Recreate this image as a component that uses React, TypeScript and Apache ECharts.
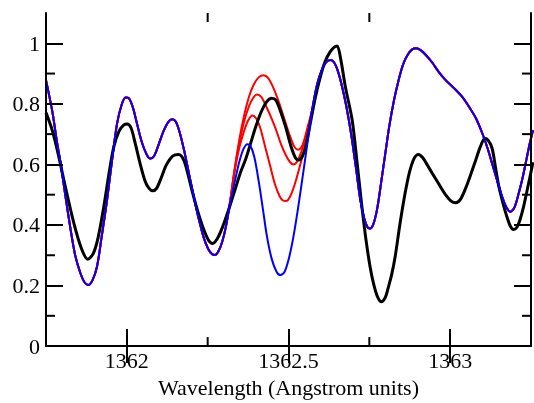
import React, { useEffect, useRef } from "react";
import * as echarts from "echarts";

// Observed spectrum (black)
const blackWave = [1361.75, 1361.77, 1361.79, 1361.805, 1361.836, 1361.86, 1361.879, 1361.895, 1361.91, 1361.928, 1361.945, 1361.959, 1361.975, 1361.99, 1362.0, 1362.012, 1362.025, 1362.04, 1362.055, 1362.068, 1362.079, 1362.09, 1362.105, 1362.12, 1362.14, 1362.159, 1362.175, 1362.19, 1362.202, 1362.218, 1362.233, 1362.25, 1362.263, 1362.278, 1362.294, 1362.315, 1362.335, 1362.35, 1362.365, 1362.38, 1362.396, 1362.412, 1362.43, 1362.445, 1362.458, 1362.472, 1362.488, 1362.505, 1362.519, 1362.529, 1362.54, 1362.55, 1362.565, 1362.58, 1362.595, 1362.61, 1362.625, 1362.638, 1362.647, 1362.658, 1362.672, 1362.693, 1362.708, 1362.723, 1362.735, 1362.748, 1362.76, 1362.772, 1362.783, 1362.795, 1362.805, 1362.815, 1362.826, 1362.84, 1362.856, 1362.87, 1362.885, 1362.897, 1362.91, 1362.925, 1362.94, 1362.96, 1362.981, 1362.998, 1363.012, 1363.026, 1363.042, 1363.058, 1363.073, 1363.088, 1363.102, 1363.112, 1363.124, 1363.135, 1363.145, 1363.157, 1363.168, 1363.18, 1363.19, 1363.2, 1363.21, 1363.221, 1363.235, 1363.25];
const blackFlux = [0.78, 0.72, 0.635, 0.563, 0.423, 0.34, 0.308, 0.325, 0.375, 0.477, 0.59, 0.67, 0.72, 0.74, 0.743, 0.73, 0.68, 0.615, 0.56, 0.535, 0.528, 0.535, 0.57, 0.61, 0.64, 0.645, 0.625, 0.57, 0.52, 0.46, 0.412, 0.37, 0.359, 0.375, 0.412, 0.475, 0.541, 0.59, 0.63, 0.68, 0.734, 0.78, 0.815, 0.826, 0.82, 0.785, 0.734, 0.67, 0.633, 0.627, 0.64, 0.67, 0.75, 0.83, 0.895, 0.945, 0.975, 0.99, 0.994, 0.95, 0.863, 0.756, 0.62, 0.477, 0.375, 0.285, 0.225, 0.185, 0.171, 0.185, 0.22, 0.26, 0.32, 0.42, 0.52, 0.59, 0.635, 0.645, 0.635, 0.61, 0.584, 0.55, 0.515, 0.495, 0.49, 0.5, 0.535, 0.58, 0.625, 0.67, 0.697, 0.69, 0.665, 0.6, 0.541, 0.49, 0.45, 0.415, 0.404, 0.41, 0.435, 0.477, 0.545, 0.62];

// Model (blue)
const blueWave = [1361.75, 1361.77, 1361.783, 1361.795, 1361.81, 1361.826, 1361.84, 1361.856, 1361.868, 1361.88, 1361.893, 1361.907, 1361.92, 1361.938, 1361.955, 1361.969, 1361.983, 1361.995, 1362.005, 1362.018, 1362.03, 1362.045, 1362.06, 1362.071, 1362.083, 1362.098, 1362.112, 1362.127, 1362.139, 1362.15, 1362.162, 1362.175, 1362.19, 1362.205, 1362.22, 1362.235, 1362.25, 1362.262, 1362.271, 1362.282, 1362.293, 1362.304, 1362.318, 1362.332, 1362.345, 1362.358, 1362.37, 1362.38, 1362.392, 1362.405, 1362.418, 1362.43, 1362.445, 1362.46, 1362.472, 1362.485, 1362.498, 1362.512, 1362.526, 1362.54, 1362.555, 1362.57, 1362.585, 1362.6, 1362.613, 1362.626, 1362.638, 1362.65, 1362.662, 1362.675, 1362.69, 1362.705, 1362.718, 1362.73, 1362.74, 1362.748, 1362.758, 1362.77, 1362.783, 1362.795, 1362.808, 1362.822, 1362.836, 1362.85, 1362.865, 1362.878, 1362.89, 1362.905, 1362.92, 1362.94, 1362.96, 1362.981, 1363.005, 1363.032, 1363.055, 1363.075, 1363.095, 1363.11, 1363.124, 1363.14, 1363.155, 1363.168, 1363.18, 1363.193, 1363.206, 1363.218, 1363.23, 1363.24, 1363.25];
const blueFlux = [0.884, 0.78, 0.69, 0.616, 0.51, 0.402, 0.32, 0.263, 0.235, 0.225, 0.24, 0.284, 0.37, 0.498, 0.64, 0.745, 0.805, 0.828, 0.826, 0.795, 0.745, 0.685, 0.645, 0.632, 0.64, 0.68, 0.72, 0.75, 0.758, 0.75, 0.715, 0.66, 0.585, 0.51, 0.44, 0.38, 0.34, 0.324, 0.322, 0.335, 0.365, 0.412, 0.49, 0.56, 0.62, 0.662, 0.678, 0.672, 0.635, 0.56, 0.47, 0.385, 0.31, 0.268, 0.257, 0.268, 0.31, 0.38, 0.47, 0.57, 0.68, 0.79, 0.87, 0.918, 0.942, 0.949, 0.94, 0.91, 0.863, 0.8, 0.71, 0.6, 0.5, 0.44, 0.412, 0.407, 0.42, 0.47, 0.56, 0.648, 0.74, 0.82, 0.884, 0.935, 0.967, 0.983, 0.987, 0.98, 0.965, 0.94, 0.91, 0.884, 0.86, 0.83, 0.795, 0.76, 0.71, 0.665, 0.616, 0.56, 0.509, 0.475, 0.461, 0.475, 0.52, 0.57, 0.63, 0.68, 0.723];

// Red models: differ from blue only between ~1362.31 and 1362.57
const red1Wave = [1362.318, 1362.33, 1362.345, 1362.36, 1362.375, 1362.39, 1362.405, 1362.42, 1362.435, 1362.45, 1362.465, 1362.478, 1362.49, 1362.503, 1362.515, 1362.527, 1362.54, 1362.555];
const red1Flux = [0.5, 0.59, 0.69, 0.77, 0.83, 0.87, 0.893, 0.9, 0.89, 0.86, 0.82, 0.78, 0.74, 0.7, 0.67, 0.66, 0.675, 0.73];
const red2Wave = [1362.318, 1362.33, 1362.345, 1362.36, 1362.375, 1362.39, 1362.4, 1362.413, 1362.428, 1362.445, 1362.46, 1362.475, 1362.49, 1362.502, 1362.512, 1362.525, 1362.54, 1362.555];
const red2Flux = [0.5, 0.59, 0.68, 0.75, 0.8, 0.83, 0.838, 0.83, 0.8, 0.76, 0.72, 0.675, 0.64, 0.62, 0.613, 0.625, 0.665, 0.72];
const red3Wave = [1362.318, 1362.33, 1362.345, 1362.36, 1362.373, 1362.386, 1362.398, 1362.41, 1362.425, 1362.44, 1362.455, 1362.47, 1362.48, 1362.49, 1362.502, 1362.515, 1362.53, 1362.545, 1362.558];
const red3Flux = [0.5, 0.585, 0.665, 0.72, 0.755, 0.77, 0.76, 0.73, 0.67, 0.61, 0.55, 0.51, 0.497, 0.495, 0.51, 0.545, 0.6, 0.66, 0.72];

const xMajorTicks = [1362, 1362.5, 1363];
const xMinorTicks = [1362.25, 1362.75];
const yMajorTicks = [0, 0.2, 0.4, 0.6, 0.8, 1];
const yMinorTicks = [0.1, 0.3, 0.5, 0.7, 0.9];

const X_MIN = 1361.75;
const X_MAX = 1363.25;
const X_STEP = 0.25;
const Y_MIN = 0;
const Y_MAX = 1.1;
const Y_STEP = 0.2;
const xTitle = "Wavelength (Angstrom units)";

const zip = (xs: number[], ys: number[]) => xs.map((x, i) => [x, ys[i]]);
const redFull = (xs: number[], ys: number[]) => {
  const blue = zip(blueWave, blueFlux);
  const before = blue.filter((p) => p[0] < 1362.31);
  const after = blue.filter((p) => p[0] > 1362.565);
  return [...before, ...zip(xs, ys), ...after];
};
const inList = (v: number, list: number[]) => list.some((t) => Math.abs(t - v) < 1e-6);

const GRID = { left: 46, right: 1, top: 13, bottom: 48 };
const boxStyle: React.CSSProperties = { position: "fixed", left: 0, top: 0, width: 534, height: 403 };

export default function App() {
  const curvesRef = useRef<HTMLDivElement>(null);
  const axesRef = useRef<HTMLDivElement>(null);
  useEffect(() => {
    if (!curvesRef.current || !axesRef.current) return;

    // Layer 1: the spectra
    const curves = echarts.init(curvesRef.current, undefined, { renderer: "svg" });
    const lineSeries = (data: number[][], color: string, width: number) => ({
      type: "line",
      data,
      smooth: 0.3,
      showSymbol: false,
      color,
      lineStyle: { color, width },
    });
    curves.setOption({
      animation: false,
      backgroundColor: "#fff",
      grid: GRID,
      xAxis: { type: "value", min: X_MIN, max: X_MAX, show: false },
      yAxis: { type: "value", min: Y_MIN, max: Y_MAX, show: false },
      series: [
        lineSeries(redFull(red1Wave, red1Flux), "#ff0000", 2),
        lineSeries(redFull(red2Wave, red2Flux), "#ff0000", 2),
        lineSeries(redFull(red3Wave, red3Flux), "#ff0000", 2),
        lineSeries(zip(blackWave, blackFlux), "#000000", 3),
        lineSeries(zip(blueWave, blueFlux), "#0000ff", 2),
      ],
    });

    // Layer 2: frame, ticks, tick labels and axis title
    const axes = echarts.init(axesRef.current, undefined, { renderer: "svg" });
    axes.setOption({
      animation: false,
      grid: GRID,
      xAxis: [
        {
          type: "value",
          min: X_MIN,
          max: X_MAX,
          interval: X_STEP,
          splitLine: { show: false },
          axisLine: { lineStyle: { color: "#000", width: 2 } },
          axisTick: { inside: true, length: 17, lineStyle: { color: "#000", width: 2 }, customValues: xMajorTicks },
          axisLabel: {
            fontSize: 22,
            fontFamily: "Liberation Serif",
            color: "#000",
            margin: 3,
            formatter: (v: number) => (inList(v, xMajorTicks) ? String(Math.round(v * 10) / 10) : ""),
          },
          name: xTitle,
          nameLocation: "middle",
          nameGap: 19,
          nameTextStyle: { fontSize: 22, fontFamily: "Liberation Serif", color: "#000" },
        },
        {
          type: "value",
          min: X_MIN,
          max: X_MAX,
          position: "top",
          splitLine: { show: false },
          axisLine: { lineStyle: { color: "#000", width: 2 } },
          axisTick: { inside: true, length: 17, lineStyle: { color: "#000", width: 2 }, customValues: xMajorTicks },
          axisLabel: { show: false },
        },
      ],
      yAxis: [
        {
          type: "value",
          min: Y_MIN,
          max: Y_MAX,
          interval: Y_STEP,
          splitLine: { show: false },
          axisLine: { show: true, lineStyle: { color: "#000", width: 2 } },
          axisTick: { show: true, inside: true, length: 17, lineStyle: { color: "#000", width: 2 }, customValues: yMajorTicks },
          axisLabel: {
            fontSize: 22,
            fontFamily: "Liberation Serif",
            color: "#000",
            margin: 6,
            formatter: (v: number) => (inList(v, yMajorTicks) ? String(Math.round(v * 10) / 10) : ""),
          },
        },
        {
          type: "value",
          min: Y_MIN,
          max: Y_MAX,
          position: "right",
          splitLine: { show: false },
          axisLine: { show: true, lineStyle: { color: "#000", width: 2 } },
          axisTick: { show: true, inside: true, length: 17, lineStyle: { color: "#000", width: 2 }, customValues: yMajorTicks },
          axisLabel: { show: false },
        },
      ],
      series: [],
    });

    // Minor ticks on all four sides, placed through the axes' scales
    const bottomY = axes.convertToPixel({ yAxisIndex: 0 }, Y_MIN) as number;
    const topY = axes.convertToPixel({ yAxisIndex: 0 }, Y_MAX) as number;
    const leftX = axes.convertToPixel({ xAxisIndex: 0 }, X_MIN) as number;
    const rightX = axes.convertToPixel({ xAxisIndex: 0 }, X_MAX) as number;
    const tick = (x1: number, y1: number, x2: number, y2: number) => ({
      type: "line",
      silent: true,
      shape: { x1, y1, x2, y2 },
      style: { stroke: "#000", lineWidth: 2 },
    });
    const graphics: any[] = [];
    xMinorTicks.forEach((v) => {
      const px = axes.convertToPixel({ xAxisIndex: 0 }, v) as number;
      graphics.push(tick(px, bottomY, px, bottomY - 9));
      graphics.push(tick(px, topY, px, topY + 9));
    });
    yMinorTicks.forEach((v) => {
      const py = axes.convertToPixel({ yAxisIndex: 0 }, v) as number;
      graphics.push(tick(leftX, py, leftX + 9, py));
      graphics.push(tick(rightX, py, rightX - 9, py));
    });
    axes.setOption({ graphic: graphics });

    return () => {
      axes.dispose();
      curves.dispose();
    };
  }, []);
  return (
    <div style={{ position: "relative", width: 534, height: 403 }}>
      <div ref={curvesRef} style={{ ...boxStyle, background: "#fff" }} />
      <div ref={axesRef} style={boxStyle} />
    </div>
  );
}
